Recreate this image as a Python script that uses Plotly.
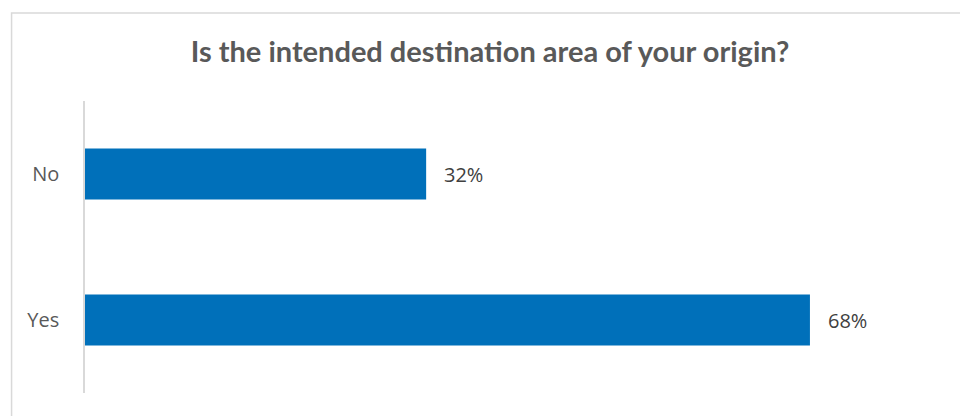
import plotly.graph_objects as go

# Survey answers and their shares (percent)
categories = ["Yes", "No"]
shares = [68, 32]
title_text = "Is the intended destination area of your origin?"

BAR_COLOR = "#0070BA"
AXIS_COLOR = "#D9D9D9"

fig = go.Figure(
    go.Bar(
        x=shares,
        y=categories,
        orientation="h",
        marker=dict(color=BAR_COLOR, line=dict(width=0)),
        hoverinfo="skip",
    )
)

# Percentage labels just past the end of each bar
for cat, val in zip(categories, shares):
    fig.add_annotation(
        x=val, y=cat, text=f"{val}%", showarrow=False,
        xanchor="left", xshift=16,
        font=dict(family="Open Sans", size=20, color="#404040"),
    )

# Light frame around the chart area
fig.add_shape(
    type="rect", xref="paper", yref="paper",
    x0=-0.0859, x1=1.2, y0=-0.3, y1=1.3014,
    line=dict(color=AXIS_COLOR, width=1.5), fillcolor="rgba(0,0,0,0)", layer="below",
)

fig.update_layout(
    width=960, height=416,
    margin=dict(l=84.5, r=20, t=101, b=23),
    paper_bgcolor="white", plot_bgcolor="white",
    showlegend=False,
    bargap=0.65,
    title=dict(
        text=title_text, x=490 / 960, xanchor="center",
        y=1 - 52 / 416, yanchor="middle",
        font=dict(family="Lato", size=29, color="#595959", weight="bold"),
    ),
    xaxis=dict(range=[0, 80.2], visible=False, fixedrange=True),
    yaxis=dict(
        showline=True, linecolor=AXIS_COLOR, linewidth=1.5,
        showgrid=False, zeroline=False, ticks="",
        ticklabelstandoff=20,
        tickfont=dict(family="Open Sans", size=20, color="#595959"),
        fixedrange=True,
    ),
)

fig.write_html("out.html")
